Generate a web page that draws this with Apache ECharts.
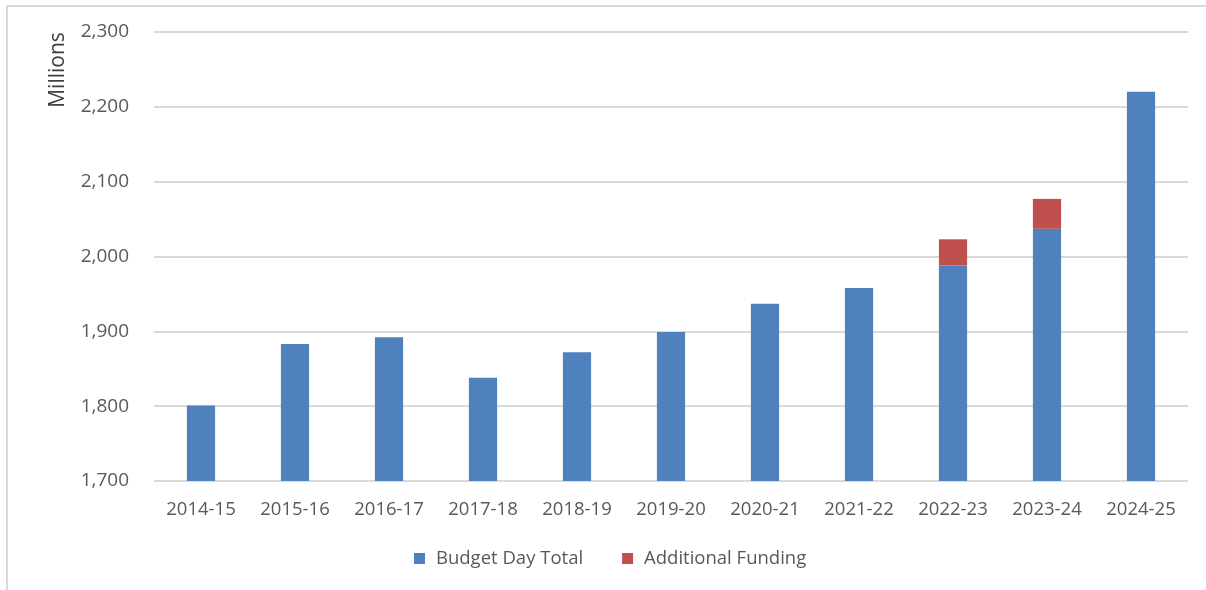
<!DOCTYPE html>
<html>
<head>
<meta charset="utf-8">
<script src="https://cdn.jsdelivr.net/npm/echarts@6/dist/echarts.min.js"></script>
<style>
  html, body { margin: 0; padding: 0; background: #ffffff; }
  #chart { width: 1206px; height: 590px; }
</style>
</head>
<body>
<div id="chart"></div>
<script>
// Financial years on the category axis
const years = ['2014-15', '2015-16', '2016-17', '2017-18', '2018-19', '2019-20',
               '2020-21', '2021-22', '2022-23', '2023-24', '2024-25'];

// Budget Day totals (millions)
const budgetDayTotal = [1801, 1883, 1892, 1838, 1872, 1899, 1937, 1958, 1988, 2037, 2220];

// Additional funding stacked on top (millions)
const additionalFunding = [null, null, null, null, null, null, null, null, 35, 40, null];

// Value axis range and step
const yMin = 1700;
const yMax = 2300;
const yStep = 100;

const textFont = '"Open Sans", "Noto Sans", sans-serif';

const chart = echarts.init(document.getElementById('chart'), null, { renderer: 'canvas' });

chart.setOption({
  animation: false,
  backgroundColor: '#ffffff',
  textStyle: { fontFamily: textFont },
  grid: { left: 154, right: 18, top: 32, bottom: 109, containLabel: false },
  legend: {
    data: ['Budget Day Total', 'Additional Funding'],
    left: 414,
    top: 549,
    padding: 0,
    itemWidth: 11,
    itemHeight: 11,
    itemGap: 39,
    icon: 'rect',
    textStyle: { color: '#595959', fontSize: 18.5, fontFamily: textFont, padding: [0, 0, 0, 6] }
  },
  xAxis: {
    type: 'category',
    data: years,
    axisLine: { show: false },
    axisTick: { show: false },
    axisLabel: { color: '#595959', fontSize: 18.5, margin: 19, fontFamily: textFont }
  },
  yAxis: {
    type: 'value',
    min: yMin,
    max: yMax,
    interval: yStep,
    axisLine: { show: false },
    axisTick: { show: false },
    axisLabel: {
      color: '#595959',
      fontSize: 19,
      margin: 25,
      fontFamily: textFont,
      formatter: v => v.toLocaleString('en-US')
    },
    splitLine: { lineStyle: { color: '#d9d9d9', width: 2 } }
  },
  series: [
    {
      name: 'Budget Day Total',
      type: 'bar',
      stack: 'total',
      data: budgetDayTotal,
      barWidth: '30%',
      itemStyle: { color: '#4f81bd' }
    },
    {
      name: 'Additional Funding',
      type: 'bar',
      stack: 'total',
      data: additionalFunding,
      barWidth: '30%',
      itemStyle: { color: '#c0504d' }
    }
  ],
  graphic: [
    // chart-area frame (left and top edges)
    {
      type: 'polyline',
      shape: { points: [[7, 590], [7, 6], [1206, 6]] },
      style: { stroke: '#d9d9d9', lineWidth: 2, fill: null },
      silent: true
    },
    // value axis title
    {
      type: 'text',
      x: 58,
      y: 70,
      rotation: Math.PI / 2,
      style: {
        text: 'Millions',
        fill: '#404040',
        fontSize: 21,
        fontFamily: textFont,
        align: 'center',
        verticalAlign: 'middle'
      }
    }
  ]
});
</script>
</body>
</html>
